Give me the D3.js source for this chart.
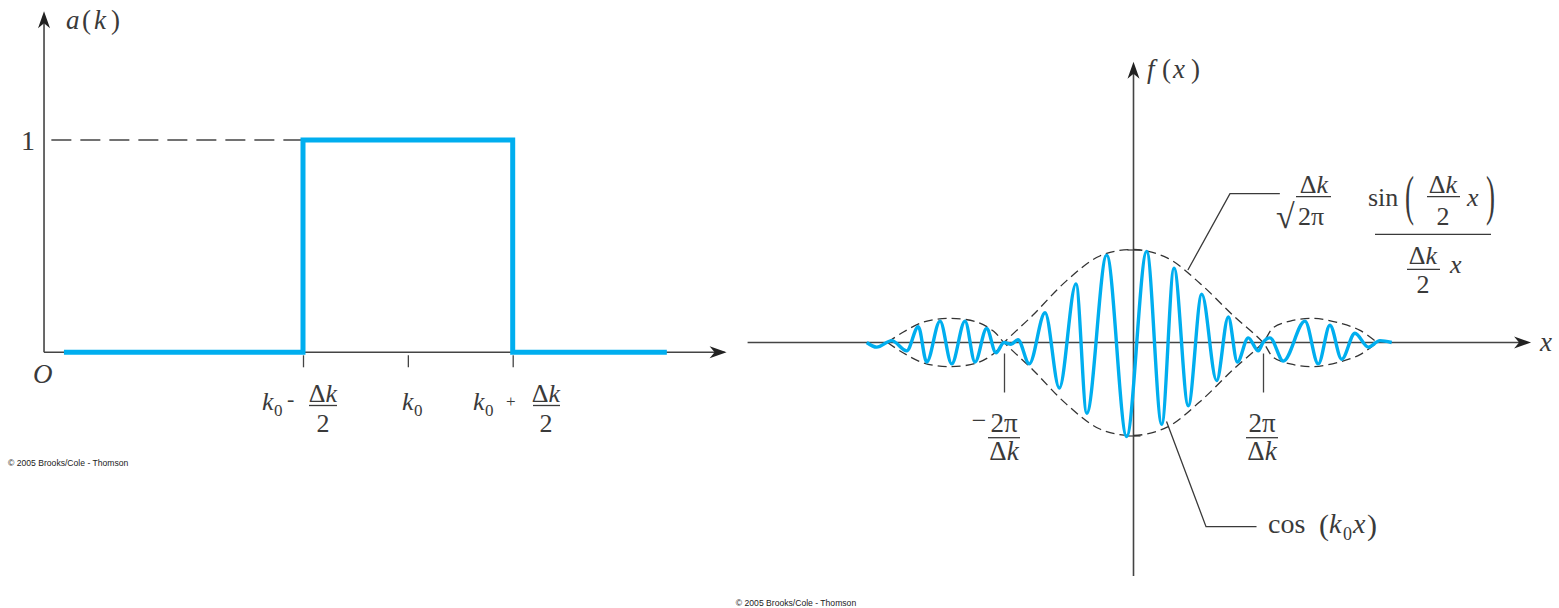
<!DOCTYPE html>
<html>
<head>
<meta charset="utf-8">
<script src="https://cdn.jsdelivr.net/npm/d3@7"></script>
<style>
html, body { margin: 0; padding: 0; background: #fff; }
svg { display: block; }
</style>
</head>
<body>
<svg id="chart" width="1559" height="608"></svg>
<script>
// left panel: a(k), k measured from k0 in units of Δk/2
const boxK = [-3.28, -1, -1, 1, 1, 2.47];
const boxA = [0, 0, 1, 1, 0, 0];
const kTicks = [-1, 0, 1];

// right panel: f(x), x in units of 2π/Δk, f relative to the envelope peak
// extrema of the cos(k0 x) carrier
const waveX = [-2.06, -1.983, -1.867, -1.751, -1.662, -1.597, -1.494, -1.404, -1.301, -1.224, -1.134, -1.062, -1.0,
  -0.946, -0.892, -0.805, -0.683, -0.573, -0.444, -0.361, -0.207, -0.053, 0.102, 0.218, 0.313, 0.423, 0.527,
  0.642, 0.732, 0.802, 0.886, 0.964, 1.0, 1.054, 1.157, 1.324, 1.427, 1.517, 1.608, 1.710, 1.813, 1.903, 1.994];
const waveY = [0, -0.05, 0.02, -0.09, 0.17, -0.21, 0.23, -0.23, 0.23, -0.21, 0.15, -0.11, 0,
  -0.02, 0.03, -0.23, 0.32, -0.49, 0.63, -0.76, 0.94, -1.01, 0.98, -0.88, 0.80, -0.68, 0.52,
  -0.41, 0.275, -0.21, 0.05, -0.09, 0, 0.05, -0.20, 0.23, -0.23, 0.185, -0.18, 0.10, -0.05, 0.02, 0];
// signed sinc envelope (drawn as +env and -env)
const envX = [-1.90, -1.78, -1.62, -1.42, -1.21, -1.08, -1.0, -0.78, -0.52, -0.26, 0, 0.26, 0.51, 0.77, 1.0,
  1.08, 1.21, 1.39, 1.59, 1.75, 1.88];
const envY = [0, -0.11, -0.22, -0.26, -0.22, -0.12, 0, 0.29, 0.66, 0.93, 1.0, 0.91, 0.64, 0.29, 0,
  -0.16, -0.23, -0.26, -0.21, -0.13, 0];
const xTicks = [-1, 1];
const yTicks = [-1, 1];

const BLUE = '#00aeef';
const INK = '#3a3a3a';
const AXIS = '#444';
const SERIF = '"Liberation Serif", "DejaVu Serif", serif';

const svg = d3.select('#chart');

function put(g, s, x, y, o = {}) {
  return g.append('text').attr('x', x).attr('y', y)
    .attr('font-family', SERIF).attr('font-size', o.size || 26)
    .attr('font-style', o.it ? 'italic' : 'normal')
    .attr('text-anchor', o.anchor || 'start')
    .attr('fill', INK).text(s);
}

// "Δk" with upright delta and italic k
function dk(g, x, y, size) {
  const t = g.append('text').attr('x', x).attr('y', y)
    .attr('font-family', SERIF).attr('font-size', size || 26)
    .attr('text-anchor', 'middle').attr('fill', INK);
  t.append('tspan').text('Δ');
  t.append('tspan').attr('font-style', 'italic').text('k');
  return t;
}

function rule(g, x1, x2, y) {
  g.append('line').attr('x1', x1).attr('x2', x2).attr('y1', y).attr('y2', y)
    .attr('stroke', INK).attr('stroke-width', 1.3);
}

function paren(g, s, x, y, size, sx) {
  g.append('text').attr('transform', `translate(${x},${y}) scale(${sx},1)`)
    .attr('font-family', SERIF).attr('font-size', size).attr('fill', INK).text(s);
}

function arrow(g, x, y, angle) {
  g.append('path').attr('d', 'M0,0 L-17,-6 L-12,0 L-17,6 Z')
    .attr('transform', `translate(${x},${y}) rotate(${angle})`).attr('fill', '#222');
}

// ---------- left panel ----------
const kX = d3.scaleLinear().domain([-1, 1]).range([303, 512.7]);
const aY = d3.scaleLinear().domain([0, 1]).range([352.3, 140]);
const L = svg.append('g');

L.append('line').attr('x1', kX(-3.47)).attr('x2', kX(3.02)).attr('y1', aY(0)).attr('y2', aY(0))
  .attr('stroke', AXIS).attr('stroke-width', 1.6);
L.append('line').attr('x1', kX(-3.47)).attr('x2', kX(-3.47)).attr('y1', aY(0)).attr('y2', aY(1.58))
  .attr('stroke', AXIS).attr('stroke-width', 1.6);
arrow(L, kX(3.04), aY(0), 0);
arrow(L, kX(-3.47), aY(1.606), -90);

L.append('line').attr('x1', kX(-3.4)).attr('x2', kX(-1)).attr('y1', aY(1)).attr('y2', aY(1))
  .attr('stroke', AXIS).attr('stroke-width', 1.4).attr('stroke-dasharray', '20,9');

L.append('g').attr('transform', `translate(0,${aY(0) + 3})`)
  .call(d3.axisBottom(kX).tickValues(kTicks).tickSize(12).tickFormat(''))
  .call(a => a.select('.domain').remove())
  .selectAll('line').attr('stroke', AXIS).attr('stroke-width', 1.3);

const boxLine = d3.line().x(i => kX(boxK[i])).y(i => aY(boxA[i]));
L.append('path').attr('d', boxLine(d3.range(boxK.length)))
  .attr('fill', 'none').attr('stroke', BLUE).attr('stroke-width', 5).attr('stroke-linejoin', 'miter');

put(L, 'a', 66, 29, { it: true, size: 27 });
put(L, '(', 82, 29, { size: 27 });
put(L, 'k', 94, 29, { it: true, size: 27 });
put(L, ')', 111, 29, { size: 27 });
put(L, '1', 28, 150, { anchor: 'middle', size: 28 });
put(L, 'O', 33, 383, { it: true, size: 27 });

put(L, 'k', 262, 410, { it: true });
put(L, '0', 274, 416, { size: 17 });
put(L, '-', 287, 406, { size: 22 });
dk(L, 323, 402);
rule(L, 309, 337, 405.5);
put(L, '2', 323, 432, { anchor: 'middle' });

put(L, 'k', 402, 410, { it: true });
put(L, '0', 414, 416, { size: 17 });

put(L, 'k', 473, 410, { it: true });
put(L, '0', 485, 416, { size: 17 });
put(L, '+', 506, 407, { size: 17 });
dk(L, 546, 402);
rule(L, 533, 560, 405.5);
put(L, '2', 546, 432, { anchor: 'middle' });

L.append('text').attr('x', 8).attr('y', 466).attr('font-family', '"Liberation Sans", Arial, sans-serif')
  .attr('font-size', 8.6).attr('fill', '#222').text('© 2005 Brooks/Cole - Thomson');

// ---------- right panel ----------
const fX = d3.scaleLinear().domain([-1, 1]).range([1004, 1263]);
const fY = d3.scaleLinear().domain([0, 1]).range([342.5, 249.5]);
const R = svg.append('g');

R.append('line').attr('x1', fX(-2.98)).attr('x2', fX(3.0)).attr('y1', fY(0)).attr('y2', fY(0))
  .attr('stroke', AXIS).attr('stroke-width', 1.6);
R.append('line').attr('x1', fX(0)).attr('x2', fX(0)).attr('y1', fY(-2.51)).attr('y2', fY(2.95))
  .attr('stroke', AXIS).attr('stroke-width', 1.6);
arrow(R, fX(3.07), fY(0), 0);
arrow(R, fX(0), fY(3.02), -90);

R.append('g').attr('transform', `translate(0,${fY(0) + 11})`)
  .call(d3.axisBottom(fX).tickValues(xTicks).tickSize(39).tickFormat(''))
  .call(a => a.select('.domain').remove())
  .selectAll('line').attr('stroke', AXIS).attr('stroke-width', 1.3);
R.append('g').attr('transform', `translate(${fX(0) + 7},0)`)
  .call(d3.axisLeft(fY).tickValues(yTicks).tickSize(13).tickFormat(''))
  .call(a => a.select('.domain').remove())
  .selectAll('line').attr('stroke', AXIS).attr('stroke-width', 1.3);

// leader lines (anchor points in data units)
const envLead = [[0.42, 0.78], [0.745, 1.6], [1.13, 1.6]];
const cosLead = [[0.255, -0.85], [0.56, -1.98], [0.95, -1.98]];
const lead = d3.line().x(d => fX(d[0])).y(d => fY(d[1]));
[envLead, cosLead].forEach(p => R.append('path').attr('d', lead(p))
  .attr('fill', 'none').attr('stroke', INK).attr('stroke-width', 1.3));

const envIdx = d3.range(envX.length);
[1, -1].forEach(s => {
  const env = d3.line().x(i => fX(envX[i])).y(i => fY(s * envY[i])).curve(d3.curveCatmullRom);
  R.append('path').attr('d', env(envIdx)).attr('fill', 'none')
    .attr('stroke', '#333').attr('stroke-width', 1.3).attr('stroke-dasharray', '9,5');
});

const wave = d3.line().x(i => fX(waveX[i])).y(i => fY(waveY[i])).curve(d3.curveMonotoneX);
R.append('path').attr('d', wave(d3.range(waveX.length)))
  .attr('fill', 'none').attr('stroke', BLUE).attr('stroke-width', 3.4).attr('stroke-linejoin', 'round');

// axis labels
put(R, 'f', 1147, 78, { it: true, size: 27 });
put(R, '(', 1162, 78, { size: 27 });
put(R, 'x', 1173, 78, { it: true, size: 27 });
put(R, ')', 1191, 78, { size: 27 });
put(R, 'x', 1540, 351, { it: true, size: 27 });

// tick labels
put(R, '−', 979, 429, { anchor: 'middle', size: 26 });
put(R, '2π', 1004, 432, { anchor: 'middle', size: 27 });
rule(R, 988, 1020, 437.7);
dk(R, 1004, 460, 27);
put(R, '2π', 1262, 432, { anchor: 'middle', size: 27 });
rule(R, 1246, 1278, 437.7);
dk(R, 1262, 460, 27);

// envelope formula
dk(R, 1314, 193);
rule(R, 1296, 1331, 196.7);
put(R, '√', 1276, 228, { size: 34 });
put(R, '2π', 1298, 225);

put(R, 'sin', 1368, 206);
paren(R, '(', 1405, 214, 54, 0.5);
dk(R, 1443, 193);
rule(R, 1427, 1460, 196.7);
put(R, '2', 1443, 225, { anchor: 'middle' });
put(R, 'x', 1467, 206, { it: true });
paren(R, ')', 1486, 214, 54, 0.5);
rule(R, 1375, 1491, 234.3);
dk(R, 1423, 264);
rule(R, 1407, 1440, 269.3);
put(R, '2', 1423, 293, { anchor: 'middle' });
put(R, 'x', 1450, 273, { it: true });

// carrier label
put(R, 'cos', 1268, 533, { size: 28 });
put(R, '(', 1319, 535, { size: 30 });
put(R, 'k', 1329, 533, { it: true, size: 28 });
put(R, '0', 1343, 540, { size: 18 });
put(R, 'x', 1353, 533, { it: true, size: 28 });
put(R, ')', 1367, 535, { size: 30 });

svg.append('text').attr('x', 796).attr('y', 606).attr('text-anchor', 'middle')
  .attr('font-family', '"Liberation Sans", Arial, sans-serif')
  .attr('font-size', 8.6).attr('fill', '#222').text('© 2005 Brooks/Cole - Thomson');
</script>
</body>
</html>
